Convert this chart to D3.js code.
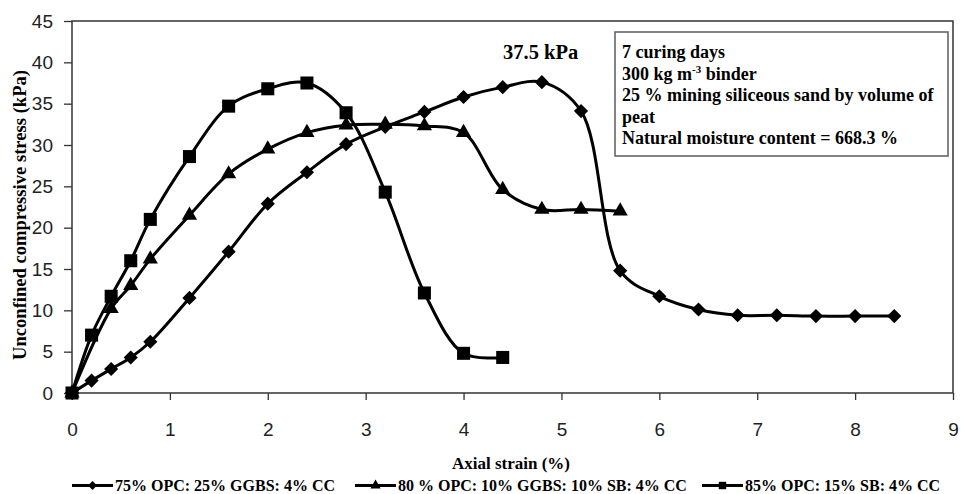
<!DOCTYPE html>
<html lang="en">
  <head>
    <meta charset="UTF-8" />
    <title>UCS vs axial strain</title>
    <style>
      body { margin: 0; background: #fff; }
      .tick text { font-family: "Liberation Sans", Arial, sans-serif; font-size: 19px; fill: #222; }
      .tick line { stroke: #333; stroke-width: 1.3; }
      .serif { font-family: "Liberation Serif", "Times New Roman", serif; font-weight: bold; fill: #000; }
    </style>
  </head>
  <body>
    <svg id="chart" width="961" height="494"></svg>
    <script src="https://cdn.jsdelivr.net/npm/d3@7"></script>
    <script>
      // data
      const strainA = [0, 0.2, 0.4, 0.6, 0.8, 1.2, 1.6, 2.0, 2.4, 2.8, 3.2, 3.6, 4.0, 4.4, 4.8, 5.2, 5.6, 6.0, 6.4, 6.8, 7.2, 7.6, 8.0, 8.4];
      const stressA = [0, 1.5, 2.9, 4.3, 6.2, 11.5, 17.1, 22.9, 26.7, 30.1, 32.2, 34.0, 35.8, 37.0, 37.6, 34.1, 14.8, 11.7, 10.1, 9.4, 9.4, 9.3, 9.3, 9.3];
      const strainB = [0, 0.4, 0.6, 0.8, 1.2, 1.6, 2.0, 2.4, 2.8, 3.2, 3.6, 4.0, 4.4, 4.8, 5.2, 5.6];
      const stressB = [0, 10.2, 13.0, 16.2, 21.5, 26.5, 29.5, 31.5, 32.4, 32.5, 32.3, 31.5, 24.6, 22.2, 22.2, 22.0];
      const strainC = [0, 0.2, 0.4, 0.6, 0.8, 1.2, 1.6, 2.0, 2.4, 2.8, 3.2, 3.6, 4.0, 4.4];
      const stressC = [0, 7.0, 11.7, 16.0, 21.0, 28.6, 34.7, 36.8, 37.5, 33.9, 24.3, 12.1, 4.8, 4.3];
      const seriesNames = ["75% OPC: 25% GGBS: 4% CC", "80 % OPC: 10% GGBS: 10% SB: 4% CC", "85% OPC: 15% SB: 4% CC"];
      const xTicks = d3.range(0, 10, 1);
      const yTicks = d3.range(0, 50, 5);
      const noteLines = ["7 curing days", "300 kg m|-3| binder", "25 % mining siliceous sand by volume of", "peat", "Natural moisture content = 668.3 %"];
      const peakLabel = "37.5 kPa";

      const svg = d3.select("#chart");
      const x = d3.scaleLinear().domain([0, 9]).range([72, 953]);
      const y = d3.scaleLinear().domain([0, 45]).range([393, 21]);

      // axes
      const gx = svg.append("g").attr("transform", "translate(0,393)")
        .call(d3.axisBottom(x).tickValues(xTicks).tickSize(7).tickSizeOuter(0).tickPadding(23));
      const gy = svg.append("g").attr("transform", "translate(72,0)")
        .call(d3.axisLeft(y).tickValues(yTicks).tickSize(8).tickSizeOuter(0).tickPadding(11));
      gx.select(".domain").remove();
      gy.select(".domain").remove();

      // plot frame
      svg.append("rect")
        .attr("x", x(0)).attr("y", y(45))
        .attr("width", x(9) - x(0)).attr("height", y(0) - y(45))
        .attr("fill", "none").attr("stroke", "#333").attr("stroke-width", 1.5);

      const series = [
        { xs: strainA, ys: stressA, sym: "diamond", size: 100 },
        { xs: strainB, ys: stressB, sym: "triangle", size: 100 },
        { xs: strainC, ys: stressC, sym: "square", size: 170 }
      ];

      function marker(sym, size) {
        if (sym == "triangle") return d3.symbol(d3.symbolTriangle, size)();
        return d3.symbol(d3.symbolSquare, size)();
      }
      function markerTransform(sym, px, py) {
        return sym == "diamond" ? `translate(${px},${py}) rotate(45)` : `translate(${px},${py})`;
      }

      const line = d3.line().curve(d3.curveCatmullRom.alpha(0.5));

      series.forEach(s => {
        const pts = s.xs.map((v, i) => [x(v), y(s.ys[i])]);
        svg.append("path")
          .attr("d", line(pts))
          .attr("fill", "none").attr("stroke", "#000").attr("stroke-width", 3);
        svg.append("g").selectAll("path").data(pts).join("path")
          .attr("d", marker(s.sym, s.size))
          .attr("transform", d => markerTransform(s.sym, d[0], d[1]))
          .attr("fill", "#000");
      });

      // peak annotation
      svg.append("text").attr("class", "serif")
        .attr("x", 503).attr("y", 59).attr("font-size", 20.5)
        .text(peakLabel);

      // note box
      svg.append("rect")
        .attr("x", 615).attr("y", 32).attr("width", 333).attr("height", 124)
        .attr("fill", "#fff").attr("stroke", "#666").attr("stroke-width", 1.6);
      noteLines.forEach((t, i) => {
        const txt = svg.append("text").attr("class", "serif")
          .attr("x", 622).attr("y", 58 + i * 21.5).attr("font-size", 18);
        const parts = t.split("|");
        parts.forEach((p, j) => {
          const ts = txt.append("tspan").text(p);
          if (j % 2 == 1) ts.attr("font-size", 11).attr("dy", -7);
          else if (j > 0) ts.attr("dy", 7);
        });
      });

      // axis titles
      svg.append("text").attr("class", "serif")
        .attr("x", 511).attr("y", 469).attr("text-anchor", "middle").attr("font-size", 17)
        .text("Axial strain (%)");
      svg.append("text").attr("class", "serif")
        .attr("transform", "translate(26,215) rotate(-90)")
        .attr("text-anchor", "middle").attr("font-size", 18.5)
        .attr("textLength", 290).attr("lengthAdjust", "spacingAndGlyphs")
        .text("Unconfined compressive stress (kPa)");

      // legend
      const legX = [72, 355, 702];
      const legSizes = [40, 45, 55];
      series.forEach((s, i) => {
        const g = svg.append("g").attr("transform", `translate(${legX[i]},485.5)`);
        g.append("line").attr("x1", 0).attr("x2", 41).attr("y1", 0).attr("y2", 0)
          .attr("stroke", "#000").attr("stroke-width", 3);
        g.append("path").attr("d", marker(s.sym, legSizes[i]))
          .attr("transform", markerTransform(s.sym, 20.5, 0)).attr("fill", "#000");
        g.append("text").attr("class", "serif")
          .attr("x", 43).attr("y", 5).attr("font-size", 16)
          .text(seriesNames[i]);
      });
    </script>
  </body>
</html>
